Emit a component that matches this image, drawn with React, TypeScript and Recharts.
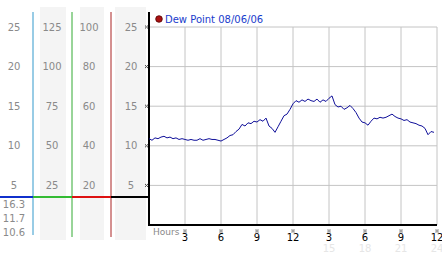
import React from 'react';
import { LineChart, Line, XAxis, YAxis, CartesianGrid } from 'recharts';

// Dew point readings, every quarter hour from 0h
const dewPoint = [
  10.9, 10.7, 11.0, 10.9,
  11.1, 11.2, 11.0, 11.1,
  10.9, 11.0, 10.8, 10.9,
  10.8, 10.7, 10.8, 10.7,
  10.7, 10.9, 10.7, 10.8,
  10.9, 10.8, 10.8, 10.7,
  10.6, 10.8, 11.0, 11.3,
  11.4, 11.8, 12.1, 12.7,
  12.5, 12.9, 12.8, 13.1,
  13.0, 13.3, 13.1, 13.5,
  12.5, 12.2, 11.7, 12.4,
  13.1, 13.8, 14.0, 14.6,
  15.3, 15.7, 15.5, 15.8,
  15.6, 15.9, 15.7, 15.6,
  15.9, 15.5, 15.8, 15.6,
  16.0, 16.3, 15.2, 14.9,
  15.0, 14.6, 14.8, 15.1,
  14.7, 14.2, 13.5, 13.0,
  12.9, 12.6, 13.1, 13.5,
  13.4, 13.6, 13.5, 13.6,
  13.8, 14.0, 13.7, 13.5,
  13.4, 13.2, 13.3, 13.0,
  12.9, 12.8, 12.6, 12.5,
  12.2, 11.4, 11.8, 11.7,
];
const SAMPLE_HOURS = 0.25;

const seriesName = 'Dew Point 08/06/06';
const xTicks = [3, 6, 9, 12, 15, 18, 21, 24];
const hourLabels = ['3', '6', '9', '12', '3', '6', '9', '12'];
const faintLabels = ['', '', '', '', '15', '18', '21', '24'];
const dpTicks = [5, 10, 15, 20, 25];
const col1Ticks = [5, 10, 15, 20, 25];
const col2Ticks = [25, 50, 75, 100, 125];
const col3Ticks = [20, 40, 60, 80, 100];
const footerStats = ['16.3', '11.7', '10.6'];

const data = dewPoint.map((v, i) => ({ hour: i * SAMPLE_HOURS, dp: v }));

const FONT = 'DejaVu Sans, Verdana, sans-serif';

const Mark = ({ x, y, color = '#444' }: { x: number; y: number; color?: string }) => (
  <g fill={color}>
    <rect x={x - 1.5} y={y - 1.5} width={1} height={1} />
    <rect x={x + 0.5} y={y - 1.5} width={1} height={1} />
    <rect x={x - 0.5} y={y - 0.5} width={1} height={1} />
    <rect x={x - 1.5} y={y + 0.5} width={1} height={1} />
    <rect x={x + 0.5} y={y + 0.5} width={1} height={1} />
  </g>
);

const colTick = (cx: number, withMark: boolean) => (props: any) => {
  const { y, payload } = props;
  return (
    <g>
      <text x={cx} y={y} textAnchor="middle" dominantBaseline="central" fontSize={10} fill="#8a8a8a" fontFamily={FONT}>
        {payload.value}
      </text>
      {withMark && <Mark x={146.5} y={y} />}
    </g>
  );
};

const XTick = (props: any) => {
  const { x, y, payload } = props;
  const idx = xTicks.indexOf(payload.value);
  return (
    <g>
      <Mark x={x} y={y + 6} color="#333" />
      <text x={x} y={y + 16} textAnchor="middle" fontSize={10} fill="#000" fontFamily={FONT}>
        {hourLabels[idx]}
      </text>
      {faintLabels[idx] && (
        <text x={x} y={y + 27} textAnchor="middle" fontSize={10} fill="#e6e6e6" fontFamily={FONT}>
          {faintLabels[idx]}
        </text>
      )}
    </g>
  );
};

const Decorations = () => (
  <g>
    <rect x={40} y={7} width={26} height={233} fill="#f4f4f4" />
    <rect x={80} y={7} width={24} height={233} fill="#f4f4f4" />
    <rect x={115} y={7} width={31} height={233} fill="#f4f4f4" />
    <line x1={33} y1={12} x2={33} y2={235} stroke="#3399cc" strokeWidth={1} />
    <line x1={72} y1={12} x2={72} y2={237} stroke="#33aa33" strokeWidth={1} />
    <line x1={111} y1={12} x2={111} y2={237} stroke="#aa2222" strokeWidth={1} />
    <line x1={0} y1={197} x2={33} y2={197} stroke="#1030cc" strokeWidth={2} />
    <line x1={33} y1={197} x2={72} y2={197} stroke="#33bb33" strokeWidth={2} />
    <line x1={72} y1={197} x2={111} y2={197} stroke="#dd1111" strokeWidth={2} />
    <line x1={111} y1={197} x2={149} y2={197} stroke="#000" strokeWidth={2} />
    {footerStats.map((s, i) => (
      <text key={s} x={14} y={204 + i * 14} textAnchor="middle" dominantBaseline="central" fontSize={10} fill="#8a8a8a" fontFamily={FONT}>
        {s}
      </text>
    ))}
    <text x={153} y={235} fontSize={9} fill="#8a8a8a" fontFamily={FONT}>Hours</text>
    <circle cx={159} cy={19} r={3.3} fill="#aa1111" stroke="#550000" strokeWidth={0.8} />
    <text x={165} y={23} fontSize={10} fill="#1a3ccc" fontFamily={FONT}>{seriesName}</text>
  </g>
);

export default function App() {
  return (
    <div style={{ position: 'absolute', left: 0, top: 0, background: '#fff' }}>
      <LineChart width={442} height={253} data={data} margin={{ top: 27, right: 5, bottom: 0, left: 0 }}>
        <Decorations />
        <CartesianGrid stroke="#c4c4c4" strokeWidth={1} />
        <XAxis
          dataKey="hour"
          type="number"
          domain={[0, 24]}
          ticks={xTicks}
          tick={<XTick />}
          tickLine={false}
          tickSize={0}
          tickMargin={0}
          axisLine={{ stroke: '#000', strokeWidth: 2 }}
          height={28}
          interval={0}
        />
        <YAxis domain={[0, 25]} allowDataOverflow ticks={dpTicks} width={38} tick={colTick(131, true)} axisLine={false} tickLine={false} interval={0} />
        <YAxis yAxisId="c3" type="number" domain={[0, 100]} allowDataOverflow ticks={col3Ticks} width={39} tick={colTick(89, false)} axisLine={false} tickLine={false} interval={0} />
        <YAxis yAxisId="c2" type="number" domain={[0, 125]} allowDataOverflow ticks={col2Ticks} width={39} tick={colTick(52, false)} axisLine={false} tickLine={false} interval={0} />
        <YAxis yAxisId="c1" type="number" domain={[0, 25]} allowDataOverflow ticks={col1Ticks} width={33} tick={colTick(14, false)} axisLine={false} tickLine={false} interval={0} />
        <line x1={149} y1={12} x2={149} y2={226} stroke="#000" strokeWidth={2} />
        <Line dataKey="dp" stroke="#10109a" strokeWidth={1} dot={false} isAnimationActive={false} />
      </LineChart>
    </div>
  );
}
